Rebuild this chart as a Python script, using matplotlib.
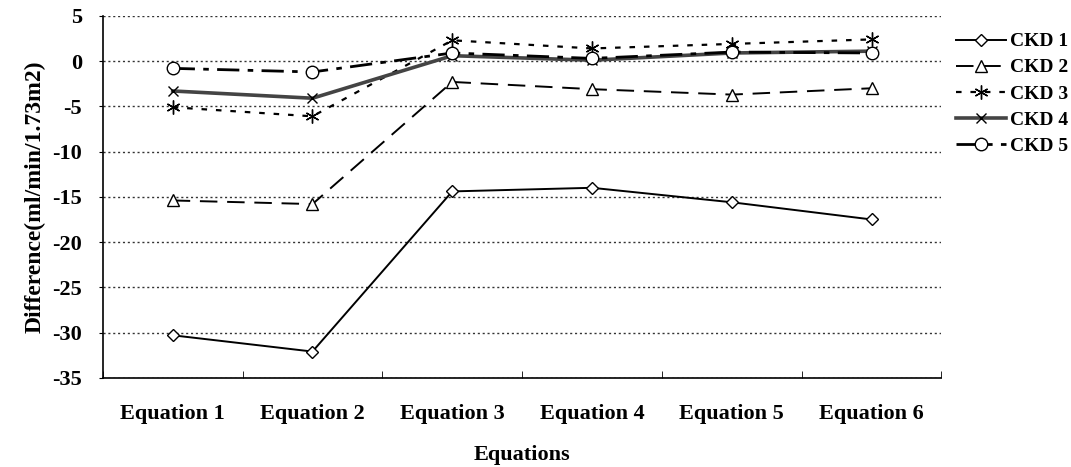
import numpy as np
import matplotlib
matplotlib.use('Agg')
import matplotlib.pyplot as plt

plt.rcParams['font.family'] = ['Liberation Serif', 'DejaVu Serif']
plt.rcParams['font.weight'] = 'bold'
plt.rcParams['axes.unicode_minus'] = False

# data
equations = ['Equation 1', 'Equation 2', 'Equation 3', 'Equation 4', 'Equation 5', 'Equation 6']
ckd1 = [-30.3, -32.1, -14.4, -14.0, -15.6, -17.5]
ckd2 = [-15.4, -15.8, -2.3, -3.1, -3.7, -3.0]
ckd3 = [-5.1, -6.1, 2.3, 1.4, 1.9, 2.4]
ckd4 = [-3.3, -4.1, 0.6, 0.1, 0.9, 1.1]
ckd5 = [-0.8, -1.2, 0.9, 0.3, 1.0, 0.9]
yticks = [5, 0, -5, -10, -15, -20, -25, -30, -35]

fig = plt.figure(figsize=(10.71, 4.67), dpi=100)
ax = fig.add_axes([0.096, 0.191, 0.783, 0.775])
x = np.arange(len(equations))

ax.plot(x, ckd1, color='black', lw=1.4, marker='D', ms=6.5, mfc='white', mec='black', mew=1.0, label='CKD 1')
ax.plot(x, ckd2, color='black', lw=1.4, dashes=(9, 5), marker='^', ms=9, mfc='white', mec='black', mew=1.0, label='CKD 2')
ax.plot(x, ckd3, color='black', lw=1.6, dashes=(2.5, 4), marker=(6, 2, 0), ms=10, mec='black', mew=1.0, label='CKD 3')
ax.plot(x, ckd4, color='#444444', lw=2.6, marker='x', ms=7, mec='black', mew=1.0, label='CKD 4')
ax.plot(x, ckd5, color='black', lw=2.0, dashes=(8, 3, 2, 3), marker='o', ms=9, mfc='white', mec='black', mew=1.0, label='CKD 5')

ax.set_xlim(-0.5, 5.5)
ax.set_ylim(-35, 5)
ax.set_yticks(yticks)
ax.set_xticks(x)
ax.set_xticklabels(equations, fontsize=16, fontweight='bold')
ax.set_xticks(np.arange(-0.5, 6, 1), minor=True)
ax.tick_params(axis='x', which='major', length=0, pad=19)
ax.tick_params(axis='x', which='minor', direction='in', length=5)
ax.tick_params(axis='y', labelsize=16, length=3, pad=12)
for t in ax.get_yticklabels():
    t.set_fontweight('bold')

ax.yaxis.grid(True, linestyle=(0, (1.5, 2)), color='#333333', lw=1.0)
ax.set_axisbelow(True)
for s in ['top', 'right']:
    ax.spines[s].set_visible(False)
ax.spines['left'].set_linewidth(1.2)
ax.spines['bottom'].set_linewidth(1.2)

ax.set_xlabel('Equations', fontsize=16, fontweight='bold', labelpad=15)
ax.set_ylabel('Difference(ml/min/1.73m2)', fontsize=17, fontweight='bold', labelpad=5)

ax.legend(loc='upper left', bbox_to_anchor=(1.008, 0.975), frameon=False,
          prop={'size': 14, 'weight': 'bold'}, handlelength=2.6, handletextpad=0.2,
          labelspacing=0.44, borderaxespad=0)

fig.savefig('out.png', dpi=100)
